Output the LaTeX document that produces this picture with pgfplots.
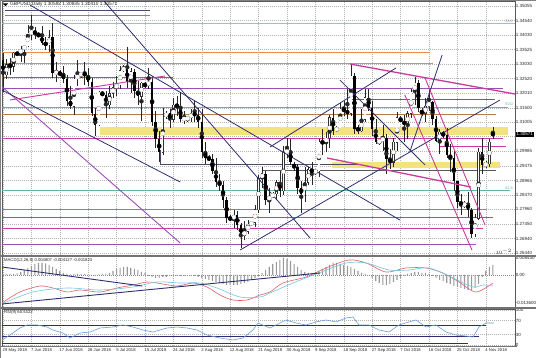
\documentclass[border=0pt]{standalone}
\usepackage{pgfplots}
\usepackage{pgfplotstable}
\pgfplotsset{compat=1.18}
\usepackage{fontspec}
\setmainfont{Liberation Sans}

\definecolor{navy}{HTML}{2E2E6E}
\definecolor{mag}{HTML}{C83C9E}
\definecolor{purp}{HTML}{9A4FB4}
\definecolor{orng}{HTML}{E88C48}
\definecolor{brwn}{HTML}{B07C48}
\definecolor{teal2}{HTML}{5DB5A6}
\definecolor{steel}{HTML}{A2BAD0}
\definecolor{band}{HTML}{F2E37C}
\definecolor{slate}{HTML}{4A4A66}
\definecolor{macdred}{HTML}{E0606A}
\definecolor{macdcyan}{HTML}{70C8E0}
\definecolor{rsiblue}{HTML}{6C9ED6}

\pgfplotstableread{
b o h l c
1 1.3265 1.3320 1.3250 1.3300
3 1.3295 1.3345 1.3275 1.3340
5 1.3338 1.3365 1.3310 1.3355
6 1.3355 1.3370 1.3305 1.3365
7 1.3365 1.3440 1.3360 1.3410
8 1.3410 1.3473 1.3385 1.3415
13 1.3370 1.3420 1.3345 1.3395
15 1.3270 1.3310 1.3240 1.3275
20 1.3155 1.3265 1.3125 1.3250
21 1.3250 1.3315 1.3225 1.3265
22 1.3265 1.3275 1.3255 1.3268
27 1.3090 1.3210 1.3085 1.3205
30 1.3160 1.3225 1.3145 1.3200
31 1.3200 1.3240 1.3185 1.3220
32 1.3220 1.3260 1.3190 1.3230
33 1.3230 1.3295 1.3215 1.3280
34 1.3280 1.3300 1.3275 1.3290
36 1.3240 1.3290 1.3200 1.3275
39 1.3190 1.3240 1.3105 1.3235
41 1.3228 1.3290 1.3215 1.3240
45 1.2995 1.3150 1.2985 1.3125
46 1.3120 1.3140 1.3110 1.3130
48 1.3110 1.3185 1.3100 1.3160
51 1.3110 1.3140 1.3095 1.3112
52 1.3110 1.3120 1.3100 1.3115
53 1.3115 1.3145 1.3100 1.3130
65 1.2762 1.2795 1.2730 1.2775
68 1.2705 1.2755 1.2690 1.2720
69 1.2720 1.2760 1.2710 1.2745
70 1.2745 1.2755 1.2740 1.2750
71 1.2750 1.2810 1.2735 1.2795
72 1.2795 1.2915 1.2785 1.2905
73 1.2905 1.2945 1.2870 1.2920
75 1.2830 1.2870 1.2785 1.2840
76 1.2840 1.2855 1.2835 1.2850
77 1.2850 1.2900 1.2830 1.2890
79 1.2860 1.3015 1.2845 1.2995
80 1.2995 1.3045 1.2975 1.3000
85 1.2850 1.2945 1.2820 1.2890
86 1.2890 1.2945 1.2880 1.2935
88 1.2925 1.2935 1.2915 1.2930
89 1.2930 1.3040 1.2910 1.3030
91 1.3030 1.3065 1.2995 1.3045
92 1.3045 1.3125 1.3010 1.3115
94 1.3070 1.3085 1.3065 1.3080
95 1.3080 1.3165 1.3080 1.3145
98 1.3130 1.3298 1.3120 1.3260
101 1.3070 1.3145 1.3065 1.3110
102 1.3110 1.3215 1.3100 1.3185
106 1.3030 1.3040 1.3020 1.3035
107 1.3035 1.3090 1.3000 1.3045
110 1.2960 1.3045 1.2945 1.3030
111 1.3030 1.3135 1.3000 1.3115
114 1.3090 1.3140 1.3040 1.3130
115 1.3130 1.3215 1.3115 1.3205
116 1.3205 1.3258 1.3160 1.3235
119 1.3130 1.3185 1.3100 1.3155
120 1.3155 1.3215 1.3140 1.3170
123 1.3035 1.3075 1.2990 1.3065
130 1.2810 1.2825 1.2800 1.2815
133 1.2710 1.2780 1.2700 1.2765
134 1.2765 1.3010 1.2760 1.2995
136 1.2950 1.2965 1.2940 1.2955
137 1.2955 1.3040 1.2945 1.3030
}\bull

\pgfplotstableread{
b o h l c
0 1.3315 1.3340 1.3205 1.3265
2 1.3300 1.3325 1.3265 1.3295
4 1.3340 1.3345 1.3330 1.3338
9 1.3415 1.3430 1.3390 1.3410
10 1.3405 1.3415 1.3395 1.3400
11 1.3400 1.3435 1.3370 1.3375
12 1.3375 1.3395 1.3350 1.3370
14 1.3395 1.3445 1.3255 1.3270
16 1.3270 1.3280 1.3260 1.3268
17 1.3268 1.3295 1.3235 1.3250
18 1.3250 1.3265 1.3155 1.3175
19 1.3175 1.3225 1.3145 1.3155
23 1.3268 1.3310 1.3230 1.3265
24 1.3265 1.3290 1.3225 1.3240
25 1.3240 1.3255 1.3120 1.3130
26 1.3130 1.3150 1.3050 1.3090
28 1.3200 1.3210 1.3190 1.3195
29 1.3195 1.3210 1.3115 1.3160
35 1.3290 1.3362 1.3220 1.3240
37 1.3275 1.3285 1.3185 1.3210
38 1.3210 1.3245 1.3160 1.3190
40 1.3230 1.3240 1.3220 1.3228
42 1.3240 1.3260 1.3085 1.3100
43 1.3100 1.3140 1.3010 1.3040
44 1.3040 1.3070 1.2960 1.2995
47 1.3130 1.3145 1.3080 1.3110
49 1.3160 1.3190 1.3120 1.3155
50 1.3155 1.3200 1.3100 1.3110
54 1.3130 1.3175 1.3100 1.3125
55 1.3125 1.3150 1.3080 1.3100
56 1.3100 1.3145 1.2975 1.2995
57 1.2995 1.3030 1.2955 1.2975
58 1.2975 1.2985 1.2965 1.2970
59 1.2970 1.2990 1.2920 1.2930
60 1.2930 1.2975 1.2875 1.2890
61 1.2890 1.2920 1.2860 1.2880
62 1.2880 1.2895 1.2800 1.2830
63 1.2830 1.2840 1.2750 1.2765
64 1.2765 1.2775 1.2755 1.2762
66 1.2775 1.2790 1.2725 1.2740
67 1.2740 1.2750 1.2662 1.2705
74 1.2920 1.2930 1.2810 1.2830
78 1.2890 1.2930 1.2840 1.2860
81 1.3000 1.3040 1.2950 1.2960
82 1.2950 1.2960 1.2930 1.2945
83 1.2945 1.2955 1.2850 1.2870
84 1.2870 1.2895 1.2785 1.2850
87 1.2935 1.2960 1.2880 1.2925
90 1.3030 1.3075 1.2985 1.3028
93 1.3115 1.3145 1.3055 1.3070
96 1.3145 1.3175 1.3120 1.3140
97 1.3140 1.3215 1.3110 1.3130
99 1.3260 1.3270 1.3060 1.3075
100 1.3080 1.3090 1.3060 1.3070
103 1.3185 1.3215 1.3140 1.3150
104 1.3150 1.3175 1.3050 1.3075
105 1.3075 1.3110 1.3025 1.3030
108 1.3045 1.3060 1.2920 1.2970
109 1.2970 1.3005 1.2935 1.2960
112 1.3110 1.3120 1.3100 1.3105
113 1.3105 1.3125 1.3030 1.3090
117 1.3235 1.3245 1.3135 1.3150
118 1.3140 1.3150 1.3120 1.3130
121 1.3170 1.3175 1.3090 1.3110
122 1.3110 1.3120 1.3030 1.3035
124 1.3060 1.3070 1.3045 1.3055
125 1.3055 1.3080 1.2975 1.2985
126 1.2985 1.3025 1.2925 1.2975
127 1.2975 1.3000 1.2860 1.2895
128 1.2895 1.2895 1.2800 1.2820
129 1.2820 1.2850 1.2775 1.2815
131 1.2815 1.2855 1.2770 1.2795
132 1.2795 1.2800 1.2696 1.2710
135 1.2995 1.3045 1.2920 1.2950
138 1.3059 1.3084 1.3041 1.3057
}\bear

\pgfplotstableread{
b v
0 0.00049
1 0.00049
2 0.00049
3 0.00049
4 0.00073
5 0.00146
6 0.00243
7 0.00340
8 0.00437
9 0.00535
10 0.00583
11 0.00583
12 0.00559
13 0.00486
14 0.00389
15 0.00292
16 0.00194
17 0.00097
18 0.00049
19 0.00024
20 0.00024
21 0.00049
22 0.00049
23 0.00049
24 0.00024
25 -0.00024
26 -0.00049
27 0.00024
28 0.00049
29 0.00049
30 0.00097
31 0.00194
32 0.00292
33 0.00340
34 0.00389
35 0.00389
36 0.00340
37 0.00292
38 0.00243
39 0.00146
40 0.00097
41 -0.00049
42 -0.00097
43 -0.00146
44 -0.00146
45 -0.00097
46 -0.00097
47 -0.00049
48 -0.00049
49 -0.00049
50 -0.00049
51 -0.00049
52 -0.00049
53 -0.00049
54 -0.00049
55 -0.00097
56 -0.00146
57 -0.00194
58 -0.00243
59 -0.00292
60 -0.00340
61 -0.00389
62 -0.00437
63 -0.00486
64 -0.00486
65 -0.00486
66 -0.00486
67 -0.00437
68 -0.00389
69 -0.00340
70 -0.00243
71 -0.00146
72 -0.00049
73 0.00097
74 0.00243
75 0.00389
76 0.00535
77 0.00632
78 0.00729
79 0.00843
80 0.00778
81 0.00680
82 0.00535
83 0.00389
84 0.00243
85 0.00146
86 0.00097
87 0.00097
88 0.00146
89 0.00194
90 0.00292
91 0.00389
92 0.00486
93 0.00583
94 0.00583
95 0.00535
96 0.00486
97 0.00437
98 0.00389
99 0.00292
100 0.00194
101 0.00097
102 0.00049
103 0.00010
104 -0.00146
105 -0.00292
106 -0.00389
107 -0.00486
108 -0.00486
109 -0.00437
110 -0.00340
111 -0.00243
112 -0.00146
113 -0.00049
114 0.00049
115 0.00097
116 0.00146
117 0.00146
118 0.00097
119 0.00097
120 0.00049
121 -0.00049
122 -0.00146
123 -0.00243
124 -0.00292
125 -0.00389
126 -0.00437
127 -0.00535
128 -0.00583
129 -0.00632
130 -0.00680
131 -0.00729
132 -0.00729
133 -0.00632
134 -0.00437
135 -0.00097
136 0.00194
137 0.00389
138 0.00486
}\hist

\pgfplotsset{
  mtpanel/.style={
    scale only axis, width=513pt, anchor=south west,
    xmin=-0.28, xmax=144.23,
    xtick={0,8,...,136}, xticklabel=\empty,
    grid=major,
    major grid style={dash pattern=on 1pt off 1pt, black!30, line width=0.3pt},
    tick style={draw=none},
    yticklabel pos=right,
    yticklabel style={font=\fontsize{4.5}{5}\selectfont, anchor=west, inner sep=0.6pt, text=black!85},
    axis line style={black!65, line width=0.5pt},
    clip=true,
  },
  wick/.style={black!85, only marks, mark=none, forget plot,
    error bars/.cd, y dir=both, y explicit, error mark=none,
    error bar style={line width=0.45pt, black!85}},
}

\begin{document}
\begin{tikzpicture}
\useasboundingbox (0pt,0pt) rectangle (536pt,358pt);
\fill[white] (0pt,0pt) rectangle (536pt,358pt);

% ---------------- main price panel ----------------
\begin{axis}[mtpanel, at={(2pt,103pt)}, height=254pt,
  ymin=1.26370, ymax=1.35219,
  ytick={1.35055,1.34540,1.34030,1.33525,1.33030,1.32520,1.32010,1.31500,1.31005,1.30495,1.29985,1.29475,1.28965,1.28470,1.27960,1.27450,1.26940,1.26440},
  yticklabels={1.35055,1.34540,1.34030,1.33525,1.33030,1.32520,1.32010,1.31500,1.31005,{},1.29985,1.29475,1.28965,1.28470,1.27960,1.27450,1.26940,1.26440},
]
% bands
\addplot[fill=band, draw=none, forget plot] coordinates {(27.3,1.30550) (142.3,1.30550) (142.3,1.30829) (27.3,1.30829)} -- cycle;
\addplot[fill=band, draw=none, forget plot] coordinates {(92.7,1.29401) (140.0,1.29401) (140.0,1.29610) (92.7,1.29610)} -- cycle;
% horizontal levels
\addplot[slate, line width=0.8pt] coordinates {(0.56,1.34905) (41.4,1.34905)};
\addplot[brwn, line width=0.8pt] coordinates {(0.56,1.34731) (41.4,1.34731)};
\addplot[steel, line width=0.8pt] coordinates {(-1,1.34452) (145,1.34452)};
\addplot[orng, line width=0.9pt] coordinates {(-1,1.33442) (120.3,1.33442)};
\addplot[orng, line width=0.9pt] coordinates {(-1,1.33059) (121.1,1.33059)};
\addplot[purp, line width=0.9pt] coordinates {(-1,1.32571) (47.9,1.32571)};
\addplot[purp, line width=0.9pt] coordinates {(-1,1.32188) (140.8,1.32188)};
\addplot[black!60, line width=0.9pt] coordinates {(97.8,1.31804) (138.6,1.31804)};
\addplot[teal2, line width=0.8pt] coordinates {(-1,1.31526) (142.3,1.31526)};
\addplot[brwn, line width=0.8pt] coordinates {(-1,1.31282) (138.9,1.31282)};
\addplot[mag, line width=0.9pt] coordinates {(-1,1.30446) (140.8,1.30446)};
\addplot[mag, line width=0.9pt] coordinates {(123.1,1.30167) (141.7,1.30167)};
\addplot[slate, line width=0.8pt] coordinates {(44.2,1.30028) (44.2,1.29540) (100.6,1.29540)};
\addplot[black!65, line width=0.9pt] coordinates {(72.96,1.29331) (138.9,1.29331)};
\addplot[teal2, line width=0.8pt] coordinates {(-1,1.28634) (142.8,1.28634)};
\addplot[brwn, line width=0.8pt] coordinates {(-1,1.27972) (136,1.27972)};
\addplot[mag, line width=0.9pt] coordinates {(-1,1.27693) (138,1.27693)};
\addplot[mag, line width=0.9pt] coordinates {(-1,1.27310) (135.2,1.27310)};
\addplot[purp, line width=0.9pt] coordinates {(-1,1.26753) (133.2,1.26753)};
% candles
\addplot[wick] table[x=b, y expr={(\thisrow{h}+\thisrow{l})/2}, y error expr={(\thisrow{h}-\thisrow{l})/2}] {\bull};
\addplot[wick] table[x=b, y expr={(\thisrow{h}+\thisrow{l})/2}, y error expr={(\thisrow{h}-\thisrow{l})/2}] {\bear};
\addplot[black, only marks, mark=none, forget plot, error bars/.cd, y dir=both, y explicit, error mark=none, error bar style={line width=2.4pt, black!80}]
  table[x=b, y expr={(\thisrow{o}+\thisrow{c})/2}, y error expr={(\thisrow{c}-\thisrow{o})/2+0.00014}] {\bull};
\addplot[white, only marks, mark=none, forget plot, error bars/.cd, y dir=both, y explicit, error mark=none, error bar style={line width=1.5pt, white}]
  table[x=b, y expr={(\thisrow{o}+\thisrow{c})/2}, y error expr={max((\thisrow{c}-\thisrow{o})/2-0.00004,0)}] {\bull};
\addplot[black, only marks, mark=none, forget plot, error bars/.cd, y dir=both, y explicit, error mark=none, error bar style={line width=2.4pt, black}]
  table[x=b, y expr={(\thisrow{o}+\thisrow{c})/2}, y error expr={max((\thisrow{o}-\thisrow{c})/2,0.00010)}] {\bear};
% trend lines
\addplot[navy, line width=0.8pt] coordinates {(7.6,1.35079) (111.8,1.27589)};
\addplot[navy, line width=0.8pt] coordinates {(28.2,1.35254) (86.5,1.26962)};
\addplot[purp, line width=0.9pt] coordinates {(-0.85,1.32292) (49.9,1.26788)};
\addplot[navy, line width=0.8pt] coordinates {(-0.85,1.32153) (49.9,1.28913)};
\addplot[mag, line width=0.9pt] coordinates {(1.97,1.31770) (45.6,1.32606)};
\addplot[mag, line width=1.3pt] coordinates {(97.7,1.33024) (144.2,1.31979)};
\addplot[navy, line width=0.8pt] coordinates {(75.2,1.30132) (110.7,1.32885)};
\addplot[navy, line width=0.8pt] coordinates {(94.9,1.32466) (118.9,1.29505)};
\addplot[navy, line width=0.8pt] coordinates {(66.8,1.26544) (140,1.31770)};
\addplot[navy, line width=0.8pt] coordinates {(114.6,1.29958) (123.7,1.33338)};
\addplot[mag, line width=0.9pt] coordinates {(118.9,1.32536) (135.8,1.27415)};
\addplot[mag, line width=0.9pt] coordinates {(113.2,1.31944) (132.1,1.26544)};
\addplot[mag, line width=1.3pt] coordinates {(91.3,1.29749) (131.8,1.28738)};
\end{axis}

% ---------------- MACD panel ----------------
\begin{axis}[mtpanel, at={(2pt,51pt)}, height=51pt,
  ymin=-0.01555, ymax=0.00923,
  ytick={0.00843,0,-0.0136}, yticklabels={0.008430,0.00,-0.013600},
  ymajorgrids=false,
]
\addplot[black!45, dash pattern=on 1pt off 1pt, line width=0.4pt] coordinates {(-1,0) (145,0)};
\addplot[ybar, bar width=1.1pt, fill=black!40, draw=none] table[x=b, y=v] {\hist};
\addplot[macdred, line width=0.6pt, smooth] coordinates {(-0.28,-0.01361) (4.79,-0.00826) (10.42,-0.00535) (14.08,-0.00632) (18.03,-0.00826) (21.69,-0.00729) (27.32,-0.00826) (32.11,-0.00632) (36.62,-0.00486) (40.56,-0.0034) (43.38,-0.00389) (49.01,-0.00535) (53.52,-0.00389) (57.46,-0.00583) (61.13,-0.00972) (64.79,-0.01215) (68.73,-0.01215) (72.39,-0.00972) (75.21,-0.00826) (78.87,-0.00389) (85.35,-0.00097) (90.99,0.0034) (97.46,0.00729) (102.25,0.00583) (107.89,0.00146) (113.52,0.0034) (119.15,0.0034) (123.94,0.00097) (128.45,-0.0034) (133.24,-0.00826) (138.03,-0.00389)};
\addplot[macdcyan, line width=0.6pt, smooth] coordinates {(-0.28,-0.0140) (8.45,-0.00826) (18.03,-0.00632) (27.32,-0.00729) (36.62,-0.00583) (43.38,-0.0034) (49.86,-0.00389) (55.49,-0.00389) (60.28,-0.00632) (66.76,-0.01069) (72.39,-0.01069) (75.21,-0.00875) (81.69,-0.00389) (89.01,0.00097) (96.62,0.00583) (102.25,0.00583) (108.73,0.00243) (114.37,0.00243) (120,0.0034) (126.76,-0.00146) (132.39,-0.00583) (135.21,-0.00486) (138.03,-0.00535)};
\addplot[navy, line width=0.9pt] coordinates {(-0.28,0.00389) (39.2,-0.00535)};
\addplot[navy, line width=0.9pt] coordinates {(-0.28,-0.01409) (89.3,0.00097)};
\end{axis}

% ---------------- RSI panel ----------------
\begin{axis}[mtpanel, at={(2pt,12pt)}, height=37pt,
  ymin=-3, ymax=103,
  ytick={100,70,30,0}, yticklabels={100,70,30,0},
  xticklabels={29 May 2018,7 Jun 2018,17 Jun 2018,26 Jun 2018,5 Jul 2018,15 Jul 2018,24 Jul 2018,2 Aug 2018,12 Aug 2018,21 Aug 2018,30 Aug 2018,9 Sep 2018,18 Sep 2018,27 Sep 2018,7 Oct 2018,16 Oct 2018,25 Oct 2018,4 Nov 2018},
  xticklabel style={font=\fontsize{4.2}{5}\selectfont, anchor=north west, inner sep=0.5pt, xshift=-1pt, yshift=-1.5pt, text=black!85},
]
\addplot[navy, line width=0.9pt] coordinates {(-1,57.2) (136.06,57.2)};
\addplot[navy, line width=0.9pt] coordinates {(-1,25.7) (134.1,25.7)};
\addplot[navy, line width=0.9pt] coordinates {(-1,5.6) (131,5.6)};
\addplot[rsiblue, line width=0.6pt] coordinates {(-0.28,14.2) (1.97,28.5) (4.79,48.6) (6.76,57.2) (9.58,57.2) (12.39,51.4) (14.08,42.8) (16.9,34.2) (18.87,19.9) (21.69,34.2) (24.51,37.1) (27.32,48.6) (30.99,51.4) (33.8,57.2) (36.62,51.4) (39.44,42.8) (42.25,37.1) (46.2,48.6) (49.01,51.4) (51.83,48.6) (54.65,42.8) (57.46,28.5) (61.13,19.9) (64.79,14.2) (67.61,19.9) (70.42,42.8) (71.83,62.9) (73.8,54.3) (75.21,48.6) (76.9,57.2) (79.72,71.5) (82.54,62.9) (85.35,57.2) (88.17,65.8) (90.99,71.5) (93.8,65.8) (96.62,77.2) (98.59,80.1) (100.28,57.2) (103.1,57.2) (105.92,42.8) (108.73,37.1) (111.55,57.2) (114.37,65.8) (116.34,71.5) (119.15,51.4) (121.97,57.2) (124.79,37.1) (127.61,28.5) (130.42,25.6) (132.39,22.8) (134.08,51.4) (136.06,62.9) (138.31,62.9)};
\end{axis}

% panel separators and frame
\fill[black!55] (0pt,101.2pt) rectangle (536pt,102.8pt);
\fill[black!55] (0pt,49.4pt) rectangle (536pt,50.8pt);
\draw[black!55, line width=0.6pt] (0pt,12pt) -- (517pt,12pt);
\draw[black!50, line width=0.6pt] (0.3pt,0pt) -- (0.3pt,358pt);
\draw[black!50, line width=0.6pt] (0pt,357.7pt) -- (536pt,357.7pt);

% texts
\fill[black] (3pt,354.5pt) -- (8pt,354.5pt) -- (5.5pt,351.8pt) -- cycle;
\node[anchor=north west, inner sep=0pt, font=\fontsize{4.8}{5}\selectfont, text=black!85] at (10pt,355.8pt) {GBPUSD,Daily 1.30592 1.30835 1.30410 1.30571};
\node[anchor=north west, inner sep=0pt, font=\fontsize{4.2}{5}\selectfont, text=black!85] at (4pt,100pt) {MACD(12,26,9) 0.004807 -0.004127 -0.001823};
\node[anchor=north west, inner sep=0pt, font=\fontsize{4.2}{5}\selectfont, text=black!85] at (4pt,48pt) {RSI(9) 60.5322};
\node[anchor=east, inner sep=0pt, font=\fontsize{3.8}{4}\selectfont, text=steel!80!black] at (513pt,337pt) {38.2};
\node[anchor=east, inner sep=0pt, font=\fontsize{3.8}{4}\selectfont, text=teal2] at (513pt,254pt) {50.0};
\node[anchor=east, inner sep=0pt, font=\fontsize{3.8}{4}\selectfont, text=teal2] at (513pt,170pt) {61.8};
\node[anchor=west, fill=black, text=white, inner sep=0.7pt, font=\fontsize{4.5}{5}\selectfont] at (515.8pt,223.6pt) {1.30571};
\end{tikzpicture}
\end{document}
